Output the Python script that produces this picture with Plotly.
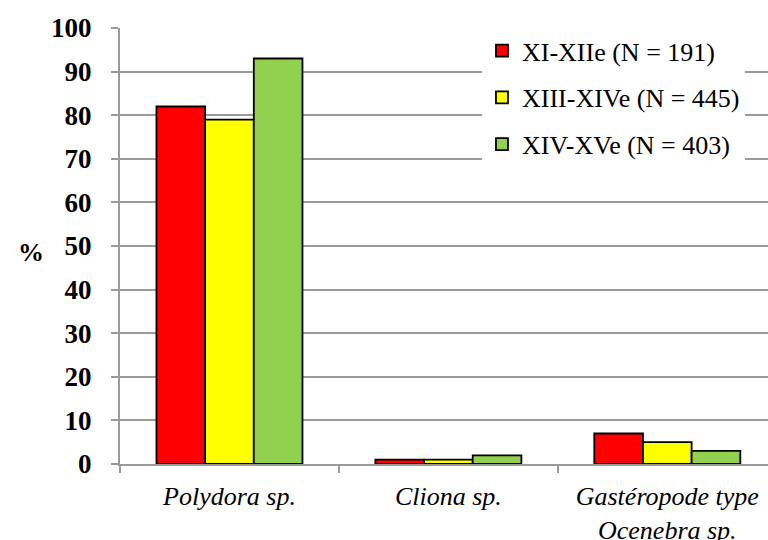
import plotly.graph_objects as go

# Categories and series (percent of shells affected)
categories = ["Polydora sp.", "Cliona sp.", "Gastéropode type<br>Ocenebra sp."]
series_names = ["XI-XIIe (N = 191)", "XIII-XIVe (N = 445)", "XIV-XVe (N = 403)"]
series_values = [
    [82, 1, 7],
    [79, 1, 5],
    [93, 2, 3],
]
series_colors = ["#FF0000", "#FFFF00", "#92D050"]
y_ticks = [0, 10, 20, 30, 40, 50, 60, 70, 80, 90, 100]

FONT = "Liberation Serif"
GRAY = "#9a9a9a"

fig = go.Figure()
for i, (name, vals, col) in enumerate(zip(series_names, series_values, series_colors)):
    fig.add_trace(go.Bar(
        x=categories, y=vals, name=name,
        marker=dict(color=col, line=dict(color="#000000", width=1.8)),
        legendgroup=f"g{i}",
    ))

fig.update_layout(
    width=768, height=540,
    margin=dict(l=120, r=0, t=28, b=76),
    paper_bgcolor="white", plot_bgcolor="white",
    font=dict(family=FONT, size=26, color="#000000"),
    barmode="group", bargap=0.333, bargroupgap=0,
    showlegend=True,
    legend=dict(
        x=0.5586, y=1.002, xanchor="left", yanchor="top",
        bgcolor="white", borderwidth=0,
        font=dict(family=FONT, size=26),
        traceorder="grouped", tracegroupgap=10,
    ),
    xaxis=dict(
        type="category", categoryorder="array", categoryarray=categories,
        range=[-0.5, 2.46], automargin=False,
        showgrid=False, showline=True, linecolor=GRAY, linewidth=2,
        ticks="outside", tickson="boundaries", ticklen=7, tickwidth=2, tickcolor=GRAY,
        tickfont=dict(family=FONT, size=26, style="italic"),
        ticklabelstandoff=8,
    ),
    yaxis=dict(
        range=[0, 100], tickvals=y_ticks, automargin=False,
        showgrid=True, gridcolor=GRAY, gridwidth=2,
        showline=True, linecolor=GRAY, linewidth=2,
        ticks="outside", ticklen=7, tickwidth=2, tickcolor=GRAY,
        tickfont=dict(family=FONT, size=27, weight="bold"),
        ticklabelstandoff=14, zeroline=False,
    ),
    shapes=[dict(
        type="rect", xref="paper", yref="paper",
        x0=0.5586, x1=0.9645, y0=0.617, y1=0.995,
        fillcolor="white", line=dict(width=0), layer="between",
    )],
    annotations=[dict(
        text="%", xref="paper", yref="paper", x=-0.137, y=0.486,
        xanchor="center", yanchor="middle",
        showarrow=False, font=dict(family=FONT, size=26, weight="bold"),
    )],
)

fig.write_html("out.html")
